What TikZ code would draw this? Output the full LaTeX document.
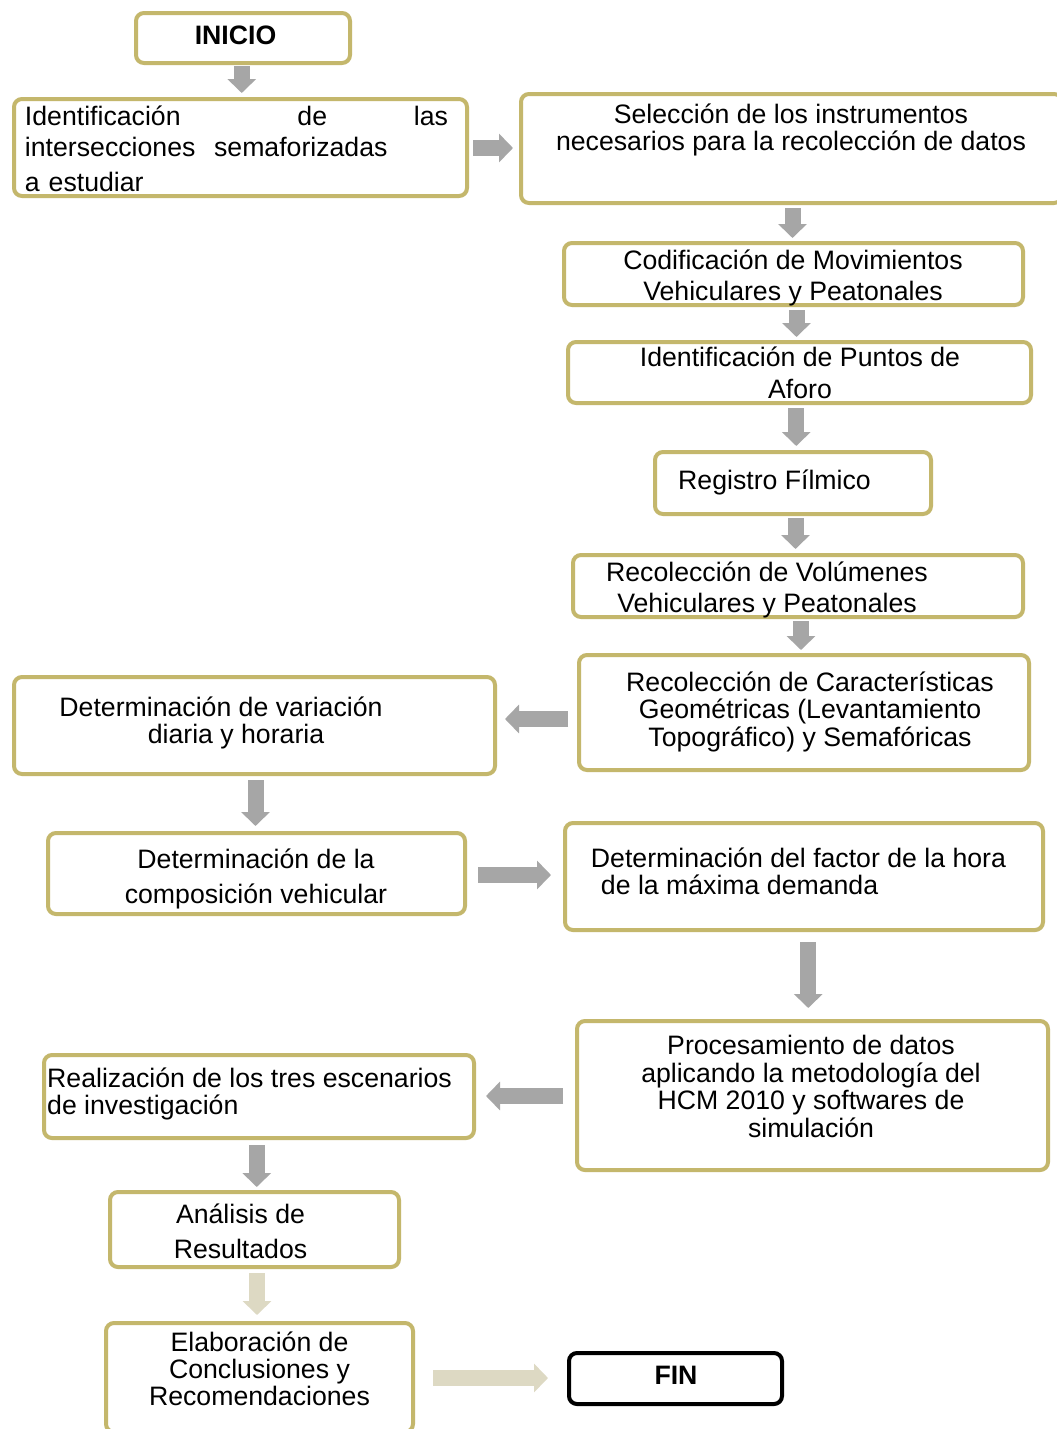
\documentclass[tikz,border=0pt]{standalone}
\usepackage{fontspec}
\setmainfont{Liberation Sans}
\usetikzlibrary{arrows.meta,calc}
\definecolor{gold}{RGB}{196,183,108}
\definecolor{agray}{RGB}{166,166,166}
\definecolor{abeige}{RGB}{221,217,195}
\newcommand\vconn[4]{%
  \coordinate (#4) at ($(#1.south)!0.5!(#2.north)$);
  \draw[#3] (#4 |- #1.south) -- (#4 |- #2.north);}
\newcommand\hconn[6]{%
  \coordinate (#4) at ($(#1.#5)!0.5!(#2.#6)$);
  \draw[#3] (#4 -| #1.#5) -- (#4 -| #2.#6);}
\begin{document}
\begin{tikzpicture}[x=0.75pt,y=-0.75pt,
  box/.style={draw=gold, line width=3pt, rounded corners=6pt, fill=white, inner sep=0pt},
  endbox/.style={box, draw=black},
  txt/.style={inner sep=0pt, align=center, font=\fontsize{20pt}{#1}\selectfont},
  txt/.default=20.25pt,
  dn/.style={yshift=-2.25pt},
  btxt/.style={inner sep=0pt, font=\fontsize{20pt}{20pt}\selectfont\bfseries},
  barrow/.style={draw=agray, line width=12pt, -{Triangle[width=21pt,length=10.5pt]}},
  larrow/.style={barrow, draw=abeige},
]
\fill[white] (0,0) rectangle (1057,1429);
\useasboundingbox (0,0) rectangle (1057,1429);

% boxes
\node[box, minimum width=160.5pt, minimum height=37.5pt] (inicio) at (243,38) {};
\node[box, minimum width=339.75pt, minimum height=72.75pt] (ident) at (240.5,147.5) {};
\node[box, minimum width=405.75pt, minimum height=81.75pt] (sel) at (791.5,148.5) {};
\node[box, minimum width=344.25pt, minimum height=46.5pt] (cod) at (793.5,274) {};
\node[box, minimum width=347.25pt, minimum height=45.75pt] (puntos) at (799.5,372.5) {};
\node[box, minimum width=207pt, minimum height=46.5pt] (reg) at (793,483) {};
\node[box, minimum width=337.5pt, minimum height=46.5pt] (vol) at (798,586) {};
\node[box, minimum width=337.5pt, minimum height=86.25pt] (caract) at (804,712.5) {};
\node[box, minimum width=360.75pt, minimum height=72.75pt] (var) at (254.5,725.5) {};
\node[box, minimum width=312.75pt, minimum height=60.75pt] (comp) at (256.5,873.5) {};
\node[box, minimum width=358.5pt, minimum height=80.25pt] (factor) at (804,876.5) {};
\node[box, minimum width=353.25pt, minimum height=111.75pt] (proc) at (812.5,1095.5) {};
\node[box, minimum width=322.5pt, minimum height=62.25pt] (real) at (259,1096.5) {};
\node[box, minimum width=216.75pt, minimum height=56.25pt] (anal) at (254.5,1229.5) {};
\node[box, minimum width=230.25pt, minimum height=81.75pt] (elab) at (259.5,1377.5) {};
\node[endbox, minimum width=159.75pt, minimum height=38.25pt] (fin) at (675.5,1378.5) {};

% texts
\node[btxt] (tinicio) at (235.5,35) {INICIO};
\node[txt=23.25pt, align=left, text width=317.25pt] (tident) at (236.5,149)
  {Identificación\hfill\hspace{22.5pt}de\hfill las\\intersecciones\hspace{14pt}semaforizadas\\[3pt]a estudiar};
\node[txt=20.25pt, dn] (tsel) at (791,126.5) {Selección de los instrumentos\\necesarios para la recolección de datos};
\node[txt=23.25pt, dn] (tcod) at (793,274.5) {Codificación de Movimientos\\Vehiculares y Peatonales};
\node[txt=24pt] (tpuntos) at (800,373) {Identificación de Puntos de\\Aforo};
\node[txt, dn] (treg) at (774.5,479) {Registro Fílmico};
\node[txt=23.25pt, dn] (tvol) at (767,586.5) {Recolección de Volúmenes\\Vehiculares y Peatonales};
\node[txt=20.6pt, dn] (tcaract) at (810,708.5) {Recolección de Características\\Geométricas (Levantamiento\\Topográfico) y Semafóricas};
\node[txt=20.25pt, dn] (tvar) at (236,719.5) {Determinación de variación\hspace*{22.5pt}\\diaria y horaria};
\node[txt=26.25pt, dn] (tcomp) at (256,875.5) {Determinación de la\\composición vehicular};
\node[txt=20.25pt, align=left] (tfactor) at (798.5,871.5) {Determinación del factor de la hora\\\hspace*{7.5pt}de la máxima demanda};
\node[txt=20.75pt] (tproc) at (811,1086.5) {Procesamiento de datos\\aplicando la metodología del\\HCM 2010 y softwares de\\simulación};
\node[txt=20.25pt, align=left, dn] (treal) at (249.5,1090.5) {Realización de los tres escenarios\\de investigación};
\node[txt=26.25pt] (tanal) at (240.5,1231.5) {Análisis de\\Resultados};
\node[txt=20.25pt] (telab) at (259.5,1369) {Elaboración de\\Conclusiones y\\Recomendaciones};
\node[btxt] (tfin) at (676,1375) {FIN};

% connectors
\vconn{inicio}{ident}{barrow, shorten <=0.75pt, shorten >=3pt}{c1}
\hconn{ident}{sel}{barrow, shorten <=3pt, shorten >=4.5pt}{c2}{east}{west}
\vconn{sel}{cod}{barrow, shorten <=2.25pt, shorten >=2.25pt}{c3}
\vconn{cod}{puntos}{barrow, shorten <=2.25pt, shorten >=2.25pt}{c4}
\vconn{puntos}{reg}{barrow, shorten <=2.25pt, shorten >=3pt}{c5}
\vconn{reg}{vol}{barrow, shorten <=1.5pt, shorten >=3pt}{c6}
\vconn{vol}{caract}{barrow, shorten <=1.5pt, shorten >=2.25pt}{c7}
\hconn{caract}{var}{barrow, shorten <=6.75pt, shorten >=6pt}{c8}{west}{east}
\vconn{var}{comp}{barrow, shorten <=3pt, shorten >=3.75pt}{c9}
\hconn{comp}{factor}{barrow, shorten <=8.25pt, shorten >=9pt}{c10}{east}{west}
\vconn{factor}{proc}{barrow, shorten <=7.5pt, shorten >=8.25pt}{c11}
\hconn{proc}{real}{barrow, shorten <=9pt, shorten >=7.5pt}{c12}{west}{east}
\vconn{real}{anal}{barrow, shorten <=3.75pt, shorten >=2.25pt}{c13}
\vconn{anal}{elab}{larrow, shorten <=3pt, shorten >=4.5pt}{c14}
\hconn{elab}{fin}{larrow, shorten <=13.5pt, shorten >=14.25pt}{c15}{east}{west}
\end{tikzpicture}
\end{document}
